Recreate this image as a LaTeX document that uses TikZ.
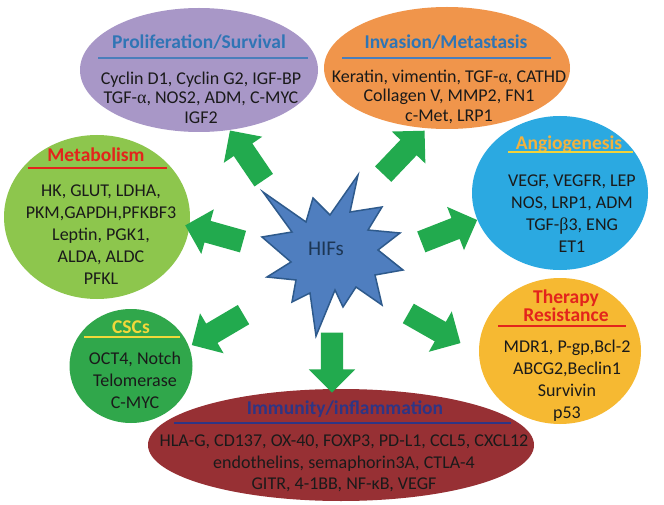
\documentclass[tikz,border=0pt]{standalone}
\usepackage{fontspec}
\setmainfont{Carlito}
\newfontfamily\greekserif{Liberation Serif}
\newcommand{\galpha}{{\greekserif α}}
\newcommand{\gbeta}{{\greekserif β}}
\usetikzlibrary{shapes.geometric}
\usetikzlibrary{shapes.arrows}
\definecolor{prolifpurple}{HTML}{A897C7}
\definecolor{invasionorange}{HTML}{F0954B}
\definecolor{metabgreen}{HTML}{8DC64D}
\definecolor{angioblue}{HTML}{2BA9E1}
\definecolor{therapyyellow}{HTML}{F6B932}
\definecolor{cscgreen}{HTML}{30A74B}
\definecolor{immunered}{HTML}{973034}
\definecolor{arrowgreen}{HTML}{22AA4E}
\definecolor{starblue}{HTML}{4F7EBF}
\definecolor{stardark}{HTML}{2E5A8C}
\definecolor{titleblue}{HTML}{2F75B5}
\definecolor{ruleblue}{HTML}{4A7EBB}
\definecolor{titlered}{HTML}{E3241C}
\definecolor{titlegold}{HTML}{F2B23E}
\definecolor{titleyellow}{HTML}{F1D83A}
\definecolor{titlenavy}{HTML}{2E3585}
\definecolor{genetext}{HTML}{1A1A1A}
\tikzset{bubble/.style = {ellipse, inner sep = 0, draw = none}}
\tikzset{heading/.style = {font = \fontsize{19.5}{18.5}\selectfont\bfseries, align = center}}
\tikzset{genes/.style = {font = \fontsize{18}{22}\selectfont, align = center, text = genetext}}
\tikzset{tightgenes/.style = {genes, font = \fontsize{18}{19.5}\selectfont}}
\tikzset{rule/.style = {line width = 2.5}}
\tikzset{hifarrow/.style = {single arrow, fill = arrowgreen, inner xsep = 0, inner ysep = 11,
                            minimum height = 60, single arrow head extend = 12,
                            single arrow head indent = 0}}
\tikzset{hifstar/.style = {fill = starblue, draw = stardark, line width = 1.5, line join = miter}}
\begin{document}
\begin{tikzpicture}[x = 1pt, y = -1pt]
  \useasboundingbox [fill = white] (0, 0) rectangle (664, 505);
  % bubbles
  \node (immune) at (341, 445) [bubble, fill = immunered, minimum width = 386, minimum height = 112] {};
  \node (prolif) at (199, 70) [bubble, fill = prolifpurple, minimum width = 238, minimum height = 124] {};
  \node (invasion) at (447, 68) [bubble, fill = invasionorange, minimum width = 246, minimum height = 122] {};
  \node (metab) at (97, 217) [bubble, fill = metabgreen, minimum width = 186, minimum height = 164] {};
  \node (angio) at (560, 193) [bubble, fill = angioblue, minimum width = 176, minimum height = 154] {};
  \node (therapy) at (560, 351) [bubble, fill = therapyyellow, minimum width = 162, minimum height = 146] {};
  \node (cscs) at (131, 366) [bubble, fill = cscgreen, minimum width = 123, minimum height = 114] {};

  \node (prolif title) at (199, 42) [heading, text = titleblue] {Proliferation/Survival};
  \draw [rule, ruleblue] (98, 58) -- (308, 58);
  \node (prolif genes) at (201, 97.5) [tightgenes] {Cyclin D1, Cyclin G2, IGF-BP\\TGF-\galpha, NOS2, ADM, C-MYC\\IGF2};

  \node (invasion title) at (446, 42) [heading, text = titleblue] {Invasion/Metastasis};
  \draw [rule, ruleblue] (342, 58) -- (551, 58);
  \node (invasion genes) at (449, 96.5) [tightgenes] {Keratin, vimentin, TGF-\galpha, CATHD\\Collagen V, MMP2, FN1\\c-Met, LRP1};

  \node (metab title) at (96, 155) [heading, text = titlered] {Metabolism};
  \draw [rule, titlered] (28, 168) -- (167, 168);
  \node (metab genes) at (101, 234.5) [genes] {HK, GLUT, LDHA,\\PKM,GAPDH,PFKBF3\\Leptin, PGK1,\\ALDA, ALDC\\PFKL};

  \node (angio title) at (569, 144) [heading, text = titlegold] {Angiogenesis};
  \draw [rule, titleyellow!85!titlegold] (508, 152) -- (633, 152);
  \node (angio genes) at (572, 213.5) [genes] {VEGF, VEGFR, LEP\\NOS, LRP1, ADM\\TGF-\gbeta3, ENG\\ET1};

  \node (therapy title) at (566, 305.5) [heading, text = titlered] {Therapy\\Resistance};
  \draw [rule, titlered] (498, 326) -- (626, 326);
  \node (therapy genes) at (567, 381) [genes] {MDR1, P-gp,Bcl-2\\ABCG2,Beclin1\\Survivin\\p53};

  \node (cscs title) at (131, 327) [heading, text = titleyellow] {CSCs};
  \draw [rule, titleyellow] (84, 337) -- (180, 337);
  \node (cscs genes) at (135, 380.5) [genes] {OCT4, Notch\\Telomerase\\C-MYC};

  \node (immune title) at (345, 409) [heading, text = titlenavy] {Immunity/inflammation};
  \draw [rule, titlenavy] (174, 423) -- (511, 423);
  \node (immune genes) at (344, 463.5) [genes, font = \fontsize{18}{21.5}\selectfont] {HLA-G, CD137, OX-40, FOXP3, PD-L1, CCL5, CXCL12\\endothelins, semaphorin3A, CTLA-4\\GITR, 4-1BB, NF-κB, VEGF};

  % arrows out of the star
  \node (to prolif) at (250, 160) [hifarrow, rotate = 124.2] {};
  \node (to invasion) at (400, 156.5) [hifarrow, rotate = 46.4] {};
  \node (to metab) at (219.5, 235) [hifarrow, rotate = 164.3] {};
  \node (to angio) at (444, 233) [hifarrow, rotate = 21.4] {};
  \node (to cscs) at (222.5, 327) [hifarrow, rotate = 210.5] {};
  \node (to therapy) at (429.5, 325.5) [hifarrow, rotate = -29.6] {};
  \node (to immune) at (332, 357) [hifarrow, rotate = -90] {};

  % HIFs
  \draw [hifstar] plot coordinates {(263, 192) (306, 222) (313, 198) (330, 215) (358, 175)
    (350, 212) (382, 207) (368, 230) (400, 233) (378, 250) (403, 270) (375, 275)
    (382, 305) (356, 287) (343, 307) (335, 290) (316, 336) (310, 293) (292, 302)
    (296, 280) (267, 277) (291, 262) (262, 237) (292, 232)} -- cycle;
  \node (hif) at (326, 249) [font = \fontsize{21}{21}\selectfont, text = stardark!60!black] {HIFs};
\end{tikzpicture}
\end{document}
